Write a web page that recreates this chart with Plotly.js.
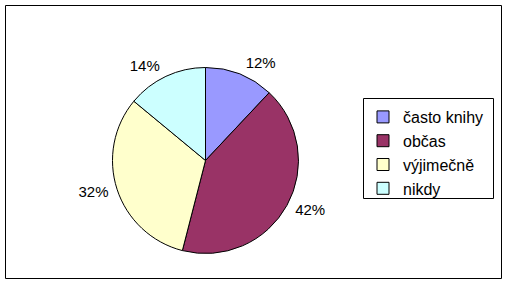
<!DOCTYPE html>
<html>
<head>
<meta charset="utf-8">
<script src="https://cdn.plot.ly/plotly-3.0.1.min.js"></script>
<style>html,body{margin:0;padding:0;background:#fff}#chart{width:507px;height:284px}</style>
</head>
<body>
<div id="chart"></div>
<script>
const categories = ["často knihy", "občas", "výjimečně", "nikdy"];
const values = [12, 42, 32, 14];
const colors = ["#9999FF", "#993366", "#FFFFCC", "#CCFFFF"];

const W = 507, H = 284;
const cx = 205.5, cy = 160.5, r = 93, rLabel = 97.5;
const FONT = "Liberation Sans, Arial, sans-serif";

function dom(rad) {
  return { x: [(cx - rad) / W, (cx + rad) / W], y: [(H - cy - rad) / H, (H - cy + rad) / H] };
}

const pieTrace = {
  type: "pie",
  labels: categories,
  values: values,
  sort: false,
  direction: "clockwise",
  rotation: 0,
  marker: { colors: colors, line: { color: "#000", width: 1 } },
  textinfo: "none",
  hoverinfo: "none",
  domain: dom(r)
};

const labelTrace = {
  type: "pie",
  labels: categories,
  values: values,
  sort: false,
  direction: "clockwise",
  rotation: 0,
  showlegend: false,
  marker: { colors: categories.map(() => "rgba(0,0,0,0)"), line: { width: 0 } },
  textinfo: "percent",
  texttemplate: "%{percent:.0%}",
  textposition: "outside",
  outsidetextfont: { family: FONT, size: 15, color: "#000" },
  hoverinfo: "none",
  domain: dom(rLabel)
};

const layout = {
  width: W, height: H,
  margin: { l: 0, r: 0, t: 0, b: 0 },
  paper_bgcolor: "#fff",
  showlegend: true,
  legend: {
    x: 363 / W, y: (H - 100) / H, xanchor: "left", yanchor: "top",
    bgcolor: "rgba(0,0,0,0)", borderwidth: 0,
    font: { family: FONT, size: 16, color: "#000" },
    itemwidth: 30
  },
  shapes: [
    { type: "rect", xref: "paper", yref: "paper", x0: 5.5 / W, x1: 501.5 / W, y0: (H - 278.5) / H, y1: (H - 5.5) / H, line: { color: "#000", width: 1 } },
    { type: "rect", xref: "paper", yref: "paper", x0: 363.5 / W, x1: 493.5 / W, y0: (H - 198.5) / H, y1: (H - 98.5) / H, line: { color: "#000", width: 1 } }
  ]
};

Plotly.newPlot("chart", [pieTrace, labelTrace], layout, { staticPlot: true, displayModeBar: false });
</script>
</body>
</html>
